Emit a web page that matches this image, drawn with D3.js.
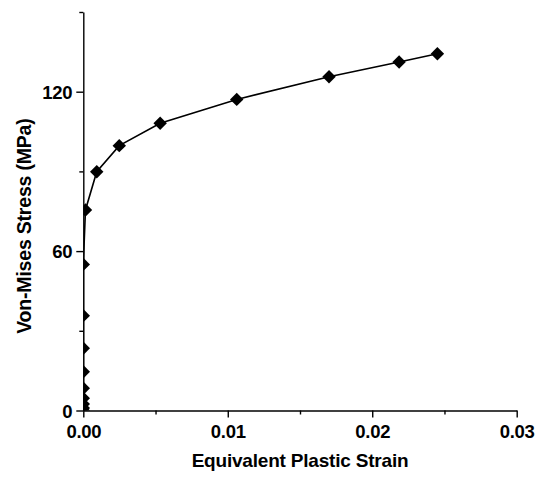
<!DOCTYPE html>
<html>
<head>
<meta charset="utf-8">
<script src="https://cdn.jsdelivr.net/npm/d3@7"></script>
<style>
    body { margin: 0; background: #fff; }
    text { font-family: "Liberation Sans", Arial, sans-serif; font-weight: bold; fill: #000; }
</style>
</head>
<body>
<div id="chart"></div>
<script>
"use strict";

// plastic strain vs von mises stress
const strain = [0, 0, 0, 0, 0, 0, 0, 0, 0, 0.00015, 0.00093, 0.00249, 0.00532, 0.01062, 0.01701, 0.02186, 0.02451];
const stress = [0, 0.9, 2.4, 4.6, 8.4, 14.6, 23.4, 35.7, 55.0, 75.5, 89.9, 99.7, 108.1, 117.1, 125.6, 131.2, 134.3];

const x_ticks = [0, 0.01, 0.02, 0.03];
const x_minor = [0.005, 0.015, 0.025];
const y_ticks = [0, 60, 120];
const y_minor = [30, 90, 150];

const x_title = 'Equivalent Plastic Strain';
const y_title = 'Von-Mises Stress (MPa)';

const width = 537, height = 479;
const margin = {top: 12, left: 83.3};

const points = strain.map((s, i) => ({x: s, y: stress[i]}));

const xScale = d3.scaleLinear().domain([0, 0.03]).range([0, 433.4]);
const yScale = d3.scaleLinear().domain([0, 150]).range([398.5, 0]);

const svg = d3.select('#chart').append('svg')
    .attr('width', width)
    .attr('height', height);

const content = svg.append('g')
    .attr('transform', `translate(${margin.left},${margin.top})`);

svg.append('defs').append('clipPath')
    .attr('id', 'plot-clip')
    .append('rect')
    .attr('x', 0).attr('y', -10)
    .attr('width', 460).attr('height', 408.5);

// minor ticks first, then the labelled ones
const xMinorAxis = d3.axisBottom(xScale).tickValues(x_minor).tickSize(4).tickFormat('');
const xAxis = d3.axisBottom(xScale)
    .tickValues(x_ticks)
    .tickSizeInner(7)
    .tickSizeOuter(0)
    .tickPadding(7)
    .tickFormat(d3.format('.2f'));

const yMinorAxis = d3.axisLeft(yScale).tickValues(y_minor).tickSize(4).tickFormat('');
const yAxis = d3.axisLeft(yScale)
    .tickValues(y_ticks)
    .tickSizeInner(7)
    .tickSizeOuter(0)
    .tickPadding(4)
    .tickFormat(d3.format('d'));

content.append('g')
    .attr('class', 'x axis minor')
    .attr('transform', `translate(0,${yScale(0)})`)
    .call(xMinorAxis)
    .call(g => g.select('.domain').remove());

content.append('g')
    .attr('class', 'x axis x-axis')
    .attr('transform', `translate(0,${yScale(0)})`)
    .call(xAxis);

content.append('g')
    .attr('class', 'y axis minor')
    .call(yMinorAxis)
    .call(g => g.select('.domain').remove());

content.append('g')
    .attr('class', 'y axis y-axis')
    .call(yAxis);

content.selectAll('.axis path, .axis line')
    .attr('stroke', '#000')
    .attr('stroke-width', 1.4);

content.selectAll('.axis text')
    .style('font-size', '18.5px')
    .style('letter-spacing', '-0.3px');

content.selectAll('.x-axis .tick text').attr('dy', '0.71em');
content.selectAll('.y-axis .tick text').attr('dy', '0.36em');

const line = d3.line()
    .x(d => xScale(d.x))
    .y(d => yScale(d.y));

const plot = content.append('g').attr('clip-path', 'url(#plot-clip)');

plot.append('path')
    .datum(points)
    .attr('class', 'path')
    .attr('d', line)
    .attr('fill', 'none')
    .attr('stroke', '#000')
    .attr('stroke-width', 1.6);

const diamond = d3.symbol().type(d3.symbolDiamond2).size(115);

plot.selectAll('.point')
    .data(points)
    .enter().append('path')
    .attr('class', 'point')
    .attr('d', diamond)
    .attr('transform', d => `translate(${xScale(d.x)},${yScale(d.y)})`)
    .attr('fill', '#000');

svg.append('text')
    .attr('x', margin.left + xScale(0.015))
    .attr('y', 467)
    .attr('text-anchor', 'middle')
    .style('font-size', '19px')
    .style('letter-spacing', '-0.2px')
    .text(x_title);

svg.append('text')
    .attr('transform', `translate(31,${margin.top + yScale(69.4)}) rotate(-90)`)
    .attr('text-anchor', 'middle')
    .style('font-size', '19.5px')
    .style('letter-spacing', '-0.2px')
    .text(y_title);
</script>
</body>
</html>
